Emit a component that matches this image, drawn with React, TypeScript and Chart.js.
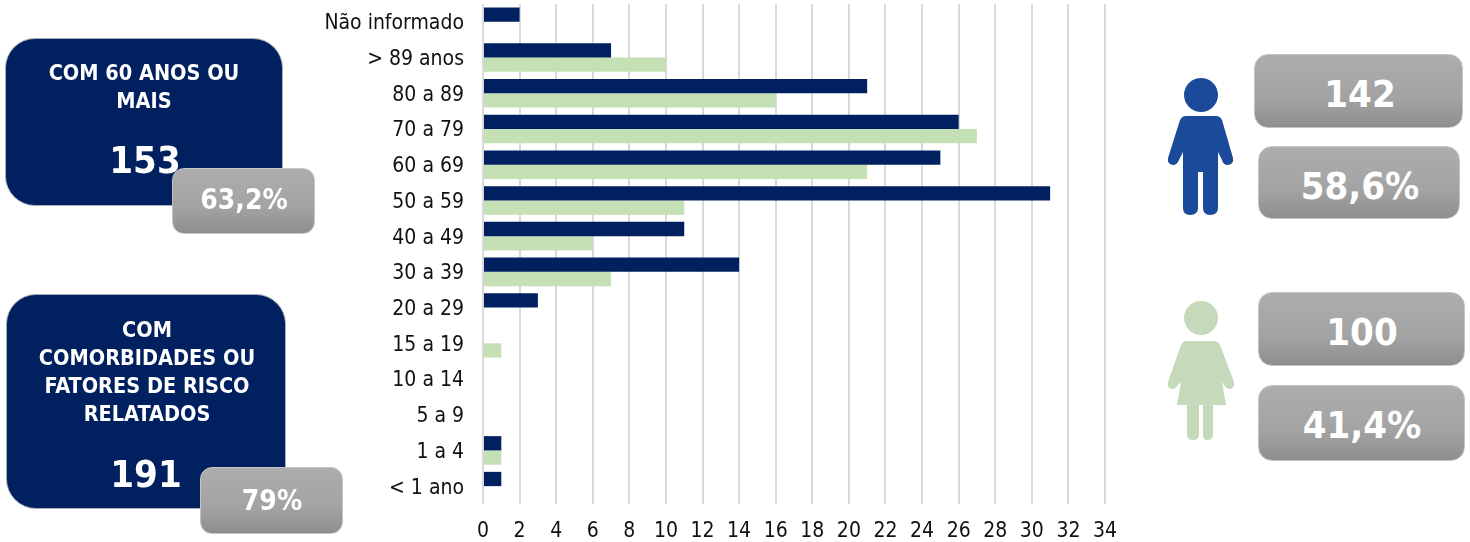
import React, { useEffect, useRef } from "react";
import { Chart, registerables } from "chart.js";

Chart.register(...registerables);

const categories = ["Não informado", "> 89 anos", "80 a 89", "70 a 79", "60 a 69", "50 a 59", "40 a 49", "30 a 39", "20 a 29", "15 a 19", "10 a 14", "5 a 9", "1 a 4", "< 1 ano"];
const maleValues = [2, 7, 21, 26, 25, 31, 11, 14, 3, 0, 0, 0, 1, 1];
const femaleValues = [0, 10, 16, 27, 21, 11, 6, 7, 0, 1, 0, 0, 1, 0];
const maleLabel = "Masculino";
const femaleLabel = "Feminino";
const NAVY = "#002060";
const GREEN = "#c5e0b4";
const FONT = "'DejaVu Sans', sans-serif";
const TICK_FONT = "'DejaVu Sans Condensed', 'DejaVu Sans', sans-serif";

const card: React.CSSProperties = {
  position: "absolute", boxSizing: "border-box", background: NAVY, border: "1px solid #a9adb5",
  borderRadius: 30,
};

function Text({ x, y, size, bold = true, children }: any) {
  return (
    <div style={{
      position: "absolute", left: x - 200, width: 400, top: y - size, height: size * 2, lineHeight: `${size * 2}px`,
      fontSize: size, fontWeight: bold ? 700 : 400, color: "#fff", textAlign: "center",
      fontFamily: FONT, fontStretch: "condensed", whiteSpace: "nowrap",
    }}>{children}</div>
  );
}

function Badge({ l, t, r, b, radius = 12 }: any) {
  return <div style={{
    position: "absolute", left: l, top: t, width: r - l, height: b - t, boxSizing: "border-box",
    borderRadius: radius, border: "1px solid #c4c4c4",
    background: "linear-gradient(#adadad, #a3a3a3 60%, #8e8e8e)",
  }} />;
}

export default function App() {
  const ref = useRef<HTMLCanvasElement>(null);
  useEffect(() => {
    const chart = new Chart(ref.current!, {
      type: "bar",
      data: {
        labels: categories,
        datasets: [
          { label: maleLabel, data: maleValues, backgroundColor: NAVY },
          { label: femaleLabel, data: femaleValues, backgroundColor: GREEN },
        ],
      },
      options: {
        indexAxis: "y",
        animation: false,
        responsive: false,
        layout: { padding: { top: 4, bottom: 0, left: 0, right: 20 } },
        plugins: { legend: { display: false }, tooltip: { enabled: false } },
        datasets: { bar: { categoryPercentage: 0.8, barPercentage: 1 } },
        scales: {
          y: {
            grid: { display: false },
            border: { display: false },
            ticks: { color: "#111", padding: 11, labelOffset: 2, font: { family: TICK_FONT, size: 21 } },
            afterFit: (s: any) => { s.width = 183; s.paddingTop = 0; s.paddingBottom = 0; },
          },
          x: {
            min: 0, max: 34,
            grid: { color: "#d9d9d9", lineWidth: 2, drawTicks: false },
            border: { display: false },
            ticks: { stepSize: 2, color: "#111", padding: 15, maxRotation: 0, font: { family: TICK_FONT, size: 21 } },
            afterFit: (s: any) => { s.height = 38; s.paddingRight = 0; s.paddingLeft = 0; },
          },
        },
      } as any,
    });
    return () => chart.destroy();
  }, []);

  return (
    <div style={{ position: "absolute", left: 0, top: 0, width: 1470, height: 542, overflow: "hidden", background: "#fff" }}>
      <canvas ref={ref} width={825} height={542} style={{ position: "absolute", left: 300, top: 0, width: 825, height: 542 }} />

      <div style={{ ...card, left: 5, top: 38, width: 278, height: 168 }} />
      <Text x={144} y={72} size={21.5}>COM 60 ANOS OU</Text>
      <Text x={144} y={100} size={21.5}>MAIS</Text>
      <Text x={145} y={160} size={38}>153</Text>
      <Badge l={172} t={168} r={315} b={234} />
      <Text x={244} y={200} size={28}>63,2%</Text>

      <div style={{ ...card, left: 6, top: 294, width: 280, height: 215 }} />
      <Text x={147} y={329} size={21.5}>COM</Text>
      <Text x={147} y={357} size={21.5}>COMORBIDADES OU</Text>
      <Text x={147} y={385} size={21.5}>FATORES DE RISCO</Text>
      <Text x={147} y={413} size={21.5}>RELATADOS</Text>
      <Text x={146} y={474} size={38}>191</Text>
      <Badge l={200} t={467} r={343} b={534} />
      <Text x={272} y={501} size={28}>79%</Text>

      <Badge l={1254} t={54} r={1463} b={128} radius={14} />
      <Text x={1360} y={94} size={38}>142</Text>
      <Badge l={1258} t={146} r={1460} b={219} radius={14} />
      <Text x={1360} y={186} size={38}>58,6%</Text>
      <Badge l={1258} t={292} r={1465} b={366} radius={14} />
      <Text x={1362} y={332} size={38}>100</Text>
      <Badge l={1258} t={385} r={1465} b={461} radius={14} />
      <Text x={1362} y={425} size={38}>41,4%</Text>

      <svg width={1470} height={542} style={{ position: "absolute", left: 0, top: 0, pointerEvents: "none" }}>
        <g fill="#1c4a9a">
          <circle cx={1201} cy={95} r={17} />
          <path d="M1186 116 H1216 Q1220 116 1222 120 L1233 158 Q1234 164 1228 165 Q1223 165 1222 160 L1218 152 V208 Q1218 215 1210 215 Q1203 215 1203 208 V172 H1198 V208 Q1198 215 1190 215 Q1183 215 1183 208 V152 L1179 160 Q1177 165 1173 165 Q1167 164 1168 158 L1180 120 Q1182 116 1186 116 Z" />
        </g>
        <g fill="#c5d9bb">
          <circle cx={1201} cy={318} r={17} />
          <path d="M1187 341 H1214 Q1218 341 1220 345 L1234 382 Q1235 388 1230 389 Q1226 389 1224 385 L1222 382 L1226 405 H1213 V434 Q1213 440 1207 440 Q1203 440 1203 434 V405 H1199 V434 Q1199 440 1193 440 Q1187 440 1187 434 V405 H1177 L1181 382 L1178 385 Q1176 389 1172 389 Q1167 388 1168 382 L1181 345 Q1183 341 1187 341 Z" />
        </g>
      </svg>
    </div>
  );
}
